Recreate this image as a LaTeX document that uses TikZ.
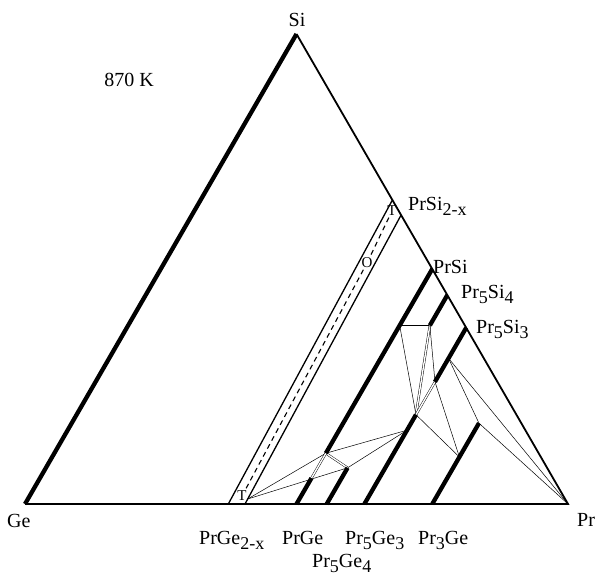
\documentclass[tikz,border=0pt]{standalone}
\usepackage{fontspec}
\setmainfont{Liberation Serif}
\newcommand\lowsub[1]{\raisebox{-5.5pt}{\fontsize{18}{18}\selectfont #1}}
\begin{document}
\begin{tikzpicture}[x=1pt,y=-1pt,
  edge/.style={line width=1.8pt, line join=miter},
  heavy/.style={line width=4.3pt},
  bandline/.style={line width=1.3pt},
  tie/.style={line width=0.5pt},
  tiedouble/.style={line width=0.45pt, double, double distance=1.4pt},
  dashline/.style={line width=1.1pt, dash pattern=on 5pt off 4pt},
  lab/.style={inner sep=0pt, font=\fontsize{20}{22}\selectfont},
  small/.style={inner sep=1.5pt, font=\fontsize{15}{16}\selectfont}]
\useasboundingbox (0,0) rectangle (596,575);
% vertices
\coordinate (Ge) at (25,504);
\coordinate (Pr) at (568,504);
\coordinate (Si) at (296.5,34);
% PrSi / PrGe line
\coordinate (PrSiT) at (432.25,269);
\coordinate (A) at (399.67,325.4);
\coordinate (H) at (325.82,453.24);
\coordinate (K) at (311.43,478.15);
\coordinate (PrGeB) at (296.5,504);
% Pr5Si4 / Pr5Ge4
\coordinate (P54T) at (447.3,295.1);
\coordinate (B) at (429.86,325.4);
\coordinate (J) at (347.57,467.81);
\coordinate (P54B) at (326.69,504);
% Pr5Si3 / Pr5Ge3
\coordinate (P53T) at (466.19,327.75);
\coordinate (D) at (448.54,358.3);
\coordinate (C) at (434.97,381.8);
\coordinate (F) at (415.96,414.7);
\coordinate (G) at (407.0,430.2);
\coordinate (P53B) at (364.38,504);
% Pr3Ge
\coordinate (P3T) at (478.95,423.16);
\coordinate (E) at (459.4,457);
\coordinate (P3B) at (432.25,504);
% PrSi2-x band
\coordinate (BL1) at (228.3,504);
\coordinate (BL2) at (392.4,200);
\coordinate (BR1) at (245,504);
\coordinate (BR2) at (401.1,215);
\coordinate (I) at (247.7,499);

% tie lines
\draw[tie] (I) -- (H);
\draw[tie] (I) -- (J);
\draw[tie] (H) -- (G);
\draw[tie] (J) -- (G);
\draw[tiedouble] (H) -- (J);
\draw[tiedouble] (H) -- (K);
\draw[tie] (A) -- (B);
\draw[tie] (A) -- (F);
\draw[tiedouble] (B) -- (F);
\draw[tie] (B) -- (C);
\draw[tiedouble] (C) -- (F);
\draw[tie] (C) -- (E);
\draw[tie] (F) -- (E);
\draw[tie] (D) -- (P3T);
\draw[tie] (D) -- (Pr);
\draw[tie] (P3T) -- (Pr);

% triangle
\draw[edge] (Ge) -- (Pr) -- (Si);
\draw[heavy] (Ge) -- (Si);

% band
\draw[bandline] (BL1) -- (BL2);
\draw[bandline] (BR1) -- (BR2);

% single-phase lines
\draw[heavy] (PrGeB) -- (K);
\draw[heavy] (H) -- (PrSiT);
\draw[heavy] (P54B) -- (J);
\draw[heavy] (B) -- (P54T);
\draw[heavy] (P53B) -- (F);
\draw[heavy] (C) -- (P53T);
\draw[heavy] (P3B) -- (P3T);

% T / O labels and dashed boundary
\node[small] (Ttop) at (392,211) {T};
\node[small] (O) at (367,263) {O};
\node[small] (Tbot) at (242,496) {T};
\draw[dashline] (Ttop) -- (O);
\draw[dashline] (O) -- (Tbot);

% labels
\node[lab, anchor=base] (lSi) at (297,27) {Si};
\node[lab, anchor=base west] (lGe) at (7,527) {Ge};
\node[lab, anchor=base west] (lPr) at (577,526) {Pr};
\node[lab] (lT) at (129,80) {870 K};
\node[lab, anchor=base west] (lPrSi2) at (408,210) {PrSi\lowsub{2-x}};
\node[lab, anchor=base west] (lPrSi) at (433,273) {PrSi};
\node[lab, anchor=base west] (lP54s) at (461,298) {Pr\lowsub{5}Si\lowsub{4}};
\node[lab, anchor=base west] (lP53s) at (476,333) {Pr\lowsub{5}Si\lowsub{3}};
\node[lab, anchor=base west] (lPrGe2) at (199,544) {PrGe\lowsub{2-x}};
\node[lab, anchor=base west] (lPrGe) at (282,544) {PrGe};
\node[lab, anchor=base west] (lP53g) at (345,544) {Pr\lowsub{5}Ge\lowsub{3}};
\node[lab, anchor=base west] (lP54g) at (312,567) {Pr\lowsub{5}Ge\lowsub{4}};
\node[lab, anchor=base west] (lP3g) at (418,544) {Pr\lowsub{3}Ge};
\end{tikzpicture}
\end{document}
